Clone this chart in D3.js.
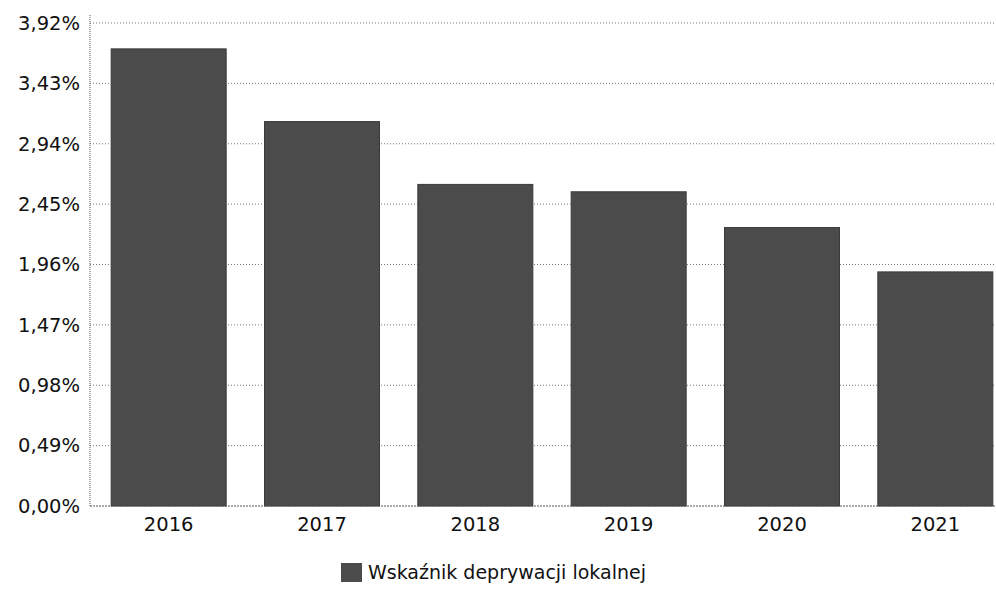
<!DOCTYPE html>
<html><head><meta charset="utf-8">
<script src="https://cdn.jsdelivr.net/npm/d3@7"></script>
<style>body{margin:0;background:#fff}svg{display:block}</style>
</head><body>
<svg id="c" width="996" height="589"></svg>
<script>
const categories = ["2016","2017","2018","2019","2020","2021"];
const values = [3.71, 3.12, 2.61, 2.55, 2.26, 1.90];
const yTicks = [0, 0.49, 0.98, 1.47, 1.96, 2.45, 2.94, 3.43, 3.92];
const seriesName = "Wskaźnik deprywacji lokalnej";

(function () {
const svg = d3.select("#c");
const font = "'DejaVu Sans', Verdana, sans-serif";
const mLeft = 90, mRight = 1012, mTop = 23, mBottom = 506;

const x = d3.scaleBand().domain(categories).range([mLeft + 2, mRight]).paddingInner(0.25).paddingOuter(0.125);
const y = d3.scaleLinear().domain([0, 3.92]).range([mBottom, mTop]);

// gridlines
svg.append("g").selectAll("line").data(yTicks.filter(d => d > 0)).join("line")
  .attr("x1", mLeft).attr("x2", 996)
  .attr("y1", d => y(d)).attr("y2", d => y(d))
  .attr("stroke", "#777").attr("stroke-width", 1).attr("stroke-dasharray", "1,2");

// y axis
const yAxis = d3.axisLeft(y).tickValues(yTicks).tickSize(0).tickPadding(10)
  .tickFormat(d => d.toFixed(2).replace(".", ",") + "%");
const gy = svg.append("g").attr("transform", `translate(${mLeft},0)`).call(yAxis);
gy.select(".domain").attr("stroke", "#555").attr("stroke-dasharray", "1,1").attr("d", `M0,${mTop - 8}V${mBottom}`);
gy.selectAll("text").attr("font-family", font).attr("font-size", 19.5).attr("fill", "#111");

// bars
svg.append("g").selectAll("rect").data(values).join("rect")
  .attr("x", (d, i) => x(categories[i]))
  .attr("width", x.bandwidth())
  .attr("y", d => y(d))
  .attr("height", d => y(0) - y(d))
  .attr("fill", "#4b4b4b").attr("stroke", "#3a3a3a").attr("stroke-width", 1);

// x axis
const xAxis = d3.axisBottom(x).tickSize(0).tickPadding(11);
const gx = svg.append("g").attr("transform", `translate(0,${mBottom})`).call(xAxis);
gx.select(".domain").attr("stroke", "#555").attr("stroke-dasharray", "2,1").attr("d", `M${mLeft},0H996`);
gx.selectAll("text").attr("font-family", font).attr("font-size", 19.5).attr("fill", "#111");

// legend
const lg = svg.append("g").attr("transform", "translate(341,563)");
lg.append("rect").attr("width", 21).attr("height", 19).attr("fill", "#4b4b4b");
lg.append("text").attr("x", 27).attr("y", 16).text(seriesName)
  .attr("font-family", font).attr("font-size", 19).attr("fill", "#111");
})();
</script>
</body></html>
